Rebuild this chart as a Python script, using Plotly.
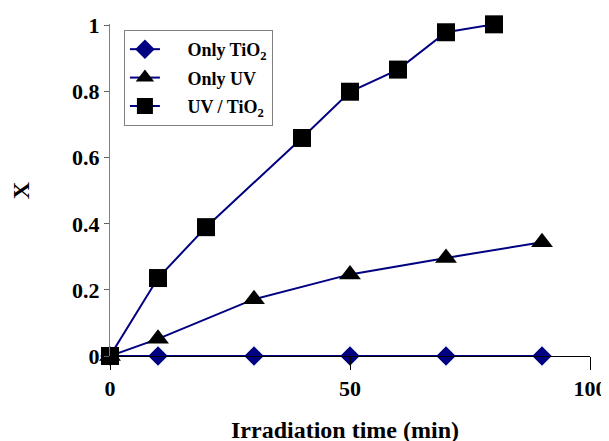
import plotly.graph_objects as go

# data
t_tio2 = [0, 10, 30, 50, 70, 90]
x_tio2 = [0, 0, 0, 0, 0, 0]
t_uv = [0, 10, 30, 50, 70, 90]
x_uv = [0, 0.052, 0.172, 0.247, 0.297, 0.344]
t_uvtio2 = [0, 10, 20, 40, 50, 60, 70, 80]
x_uvtio2 = [0, 0.236, 0.39, 0.66, 0.80, 0.867, 0.98, 1.004]

x_ticks = [0, 50, 100]
y_ticks = [0, 0.2, 0.4, 0.6, 0.8, 1]
y_ticktext = ["0", "0.2", "0.4", "0.6", "0.8", "1"]

NAVY = "#000080"
FONT = "Liberation Serif, Times New Roman, serif"
PAD = "&nbsp;" * 5

fig = go.Figure()
fig.add_trace(go.Scatter(x=t_tio2, y=x_tio2, mode="lines+markers", name=PAD + "<b>Only TiO<sub>2</sub></b>",
                         legendgroup="a",
                         line=dict(color=NAVY, width=2),
                         marker=dict(symbol="diamond", size=15, color=NAVY), cliponaxis=False))
fig.add_trace(go.Scatter(x=t_uv, y=x_uv, mode="lines+markers", name=PAD + "<b>Only UV</b>",
                         legendgroup="b",
                         line=dict(color=NAVY, width=2),
                         marker=dict(symbol="triangle-up", size=19, color="black"), cliponaxis=False))
fig.add_trace(go.Scatter(x=t_uvtio2, y=x_uvtio2, mode="lines+markers", name=PAD + "<b>UV / TiO<sub>2</sub></b>",
                         legendgroup="c",
                         line=dict(color=NAVY, width=2),
                         marker=dict(symbol="square", size=18, color="black"), cliponaxis=False))

fig.update_layout(
    width=601, height=433,
    margin=dict(l=102, r=19, t=16, b=85, autoexpand=False),
    paper_bgcolor="white", plot_bgcolor="white",
    font=dict(family=FONT, size=22, color="black"),
    showlegend=True,
    legend=dict(x=0.029, y=0.982, xanchor="left", yanchor="top",
                bordercolor="#808080", borderwidth=1, bgcolor="white",
                font=dict(family=FONT, size=18, color="black"),
                tracegroupgap=2, itemsizing="trace"),
    xaxis=dict(range=[0, 100], tickvals=x_ticks, ticktext=["<b>%d</b>" % v for v in x_ticks],
               showgrid=False, zeroline=False, showline=True, linecolor="black", linewidth=1,
               ticks="outside", ticklen=13, tickcolor="black", automargin=False,
               tickfont=dict(family=FONT, size=22)),
    yaxis=dict(range=[0, 1.005], tickvals=y_ticks, ticktext=["<b>%s</b>" % s for s in y_ticktext],
               showgrid=False, zeroline=False, showline=True, linecolor="#808080", linewidth=1,
               ticks="outside", ticklen=5, tickcolor="#606060", automargin=False,
               tickfont=dict(family=FONT, size=22)),
    annotations=[
        dict(text="<b>Irradiation time (min)</b>", xref="paper", yref="paper", x=0.489, y=-0.222,
             xanchor="center", yanchor="middle", showarrow=False, font=dict(family=FONT, size=24)),
        dict(text="<b>X</b>", xref="paper", yref="paper", x=-0.185, y=0.5, textangle=-90,
             xanchor="center", yanchor="middle", showarrow=False, font=dict(family=FONT, size=24)),
    ],
)

fig.write_html("out.html")
